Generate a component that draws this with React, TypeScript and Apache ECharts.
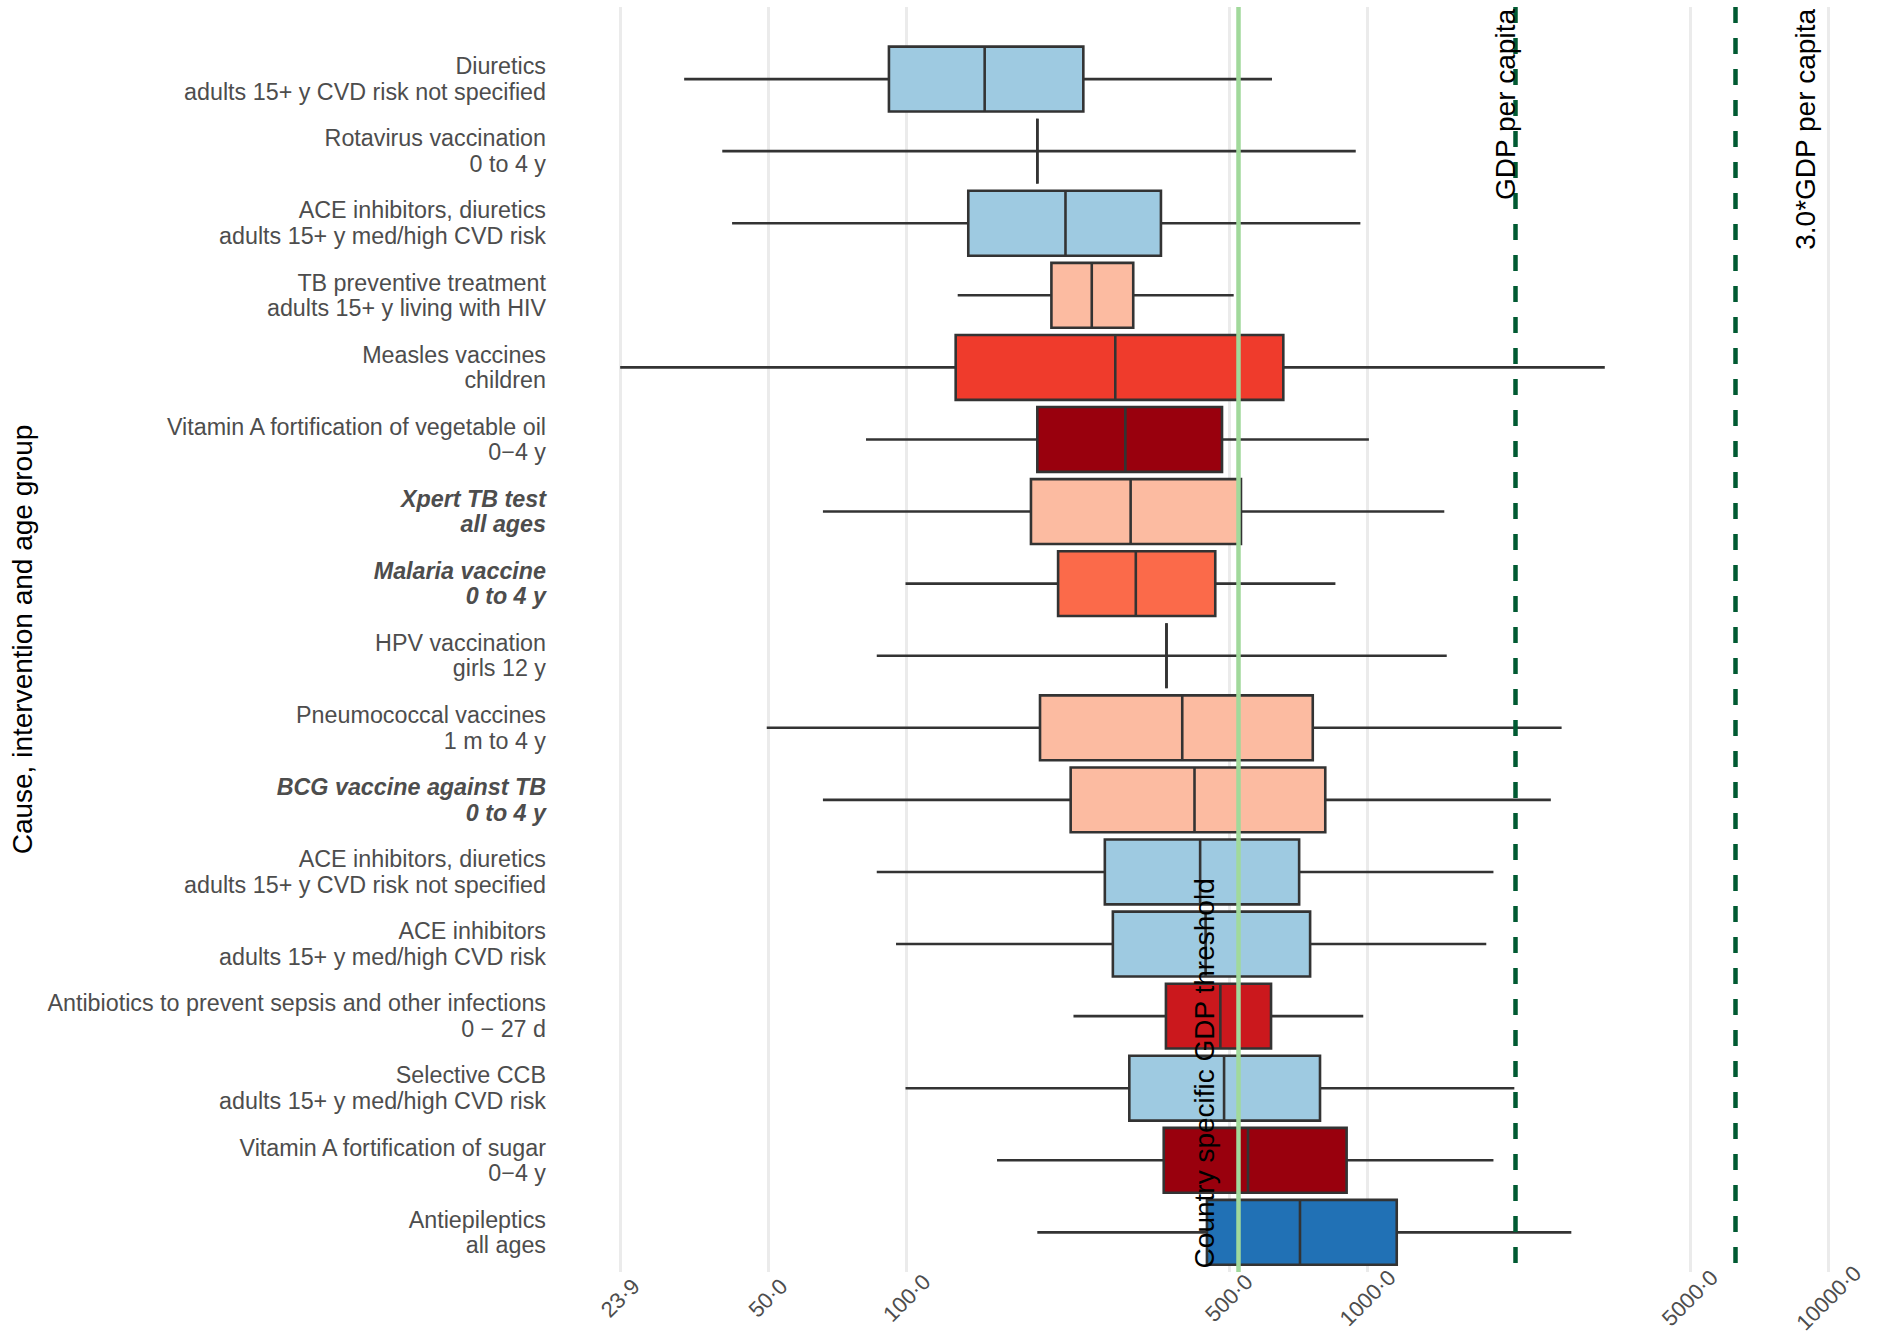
import React, { useEffect, useRef } from "react";
import * as echarts from "echarts";

// ---- Data ----
const labelLine1 = [
  "Diuretics",
  "Rotavirus vaccination",
  "ACE inhibitors, diuretics",
  "TB preventive treatment",
  "Measles vaccines",
  "Vitamin A fortification of vegetable oil",
  "Xpert TB test",
  "Malaria vaccine",
  "HPV vaccination",
  "Pneumococcal vaccines",
  "BCG vaccine against TB",
  "ACE inhibitors, diuretics",
  "ACE inhibitors",
  "Antibiotics to prevent sepsis and other infections",
  "Selective CCB",
  "Vitamin A fortification of sugar",
  "Antiepileptics",
];
const labelLine2 = [
  "adults 15+ y CVD risk not specified",
  "0 to 4 y",
  "adults 15+ y med/high CVD risk",
  "adults 15+ y living with HIV",
  "children",
  "0\u22124 y",
  "all ages",
  "0 to 4 y",
  "girls 12 y",
  "1 m to 4 y",
  "0 to 4 y",
  "adults 15+ y CVD risk not specified",
  "adults 15+ y med/high CVD risk",
  "0 \u2212 27 d",
  "adults 15+ y med/high CVD risk",
  "0\u22124 y",
  "all ages",
];
const emphasized = [
  false, false, false, false, false, false, true, true, false,
  false, true, false, false, false, false, false, false,
];
const minValues = [32.9, 39.8, 41.8, 129, 23.9, 81.6, 65.8, 99.4, 86.1, 49.7, 65.8, 86.1, 94.8, 230, 99.4, 157, 192];
const q1Values = [91.5, 192, 136, 206, 127.7, 192, 186, 213, 366, 194.6, 226.8, 269, 280, 365, 304, 361, 448];
const medianValues = [147.6, 192, 221, 252, 283.4, 298, 306, 314, 366, 396, 421, 433, 445, 479, 488, 550, 713];
const q3Values = [241.6, 192, 356, 310, 656, 483, 531, 467, 366, 760, 809, 710, 750, 617, 788, 900, 1156];
const maxValues = [620, 942, 964, 512, 3268, 1006, 1466, 851, 1484, 2634, 2496, 1874, 1808, 978, 2080, 1874, 2765];
const boxColors = [
  "#9ECAE1", "#FCBBA1", "#9ECAE1", "#FCBBA1", "#EF3B2C", "#99000D", "#FCBBA1",
  "#FB6A4A", "#FCBBA1", "#FCBBA1", "#FCBBA1", "#9ECAE1", "#9ECAE1", "#CB181D",
  "#9ECAE1", "#99000D", "#2171B5",
];
const xTickValues = [23.9, 50, 100, 500, 1000, 5000, 10000];
const thresholdValue = 524;
const gdpPerCapita = 2088;
const gdpMultiplier = 3.0;

const FONT = "'Liberation Sans', Arial, Helvetica, sans-serif";
const EDGE = "#333333";

export default function App() {
  const ref = useRef<HTMLDivElement>(null);

  useEffect(() => {
    const chart = echarts.init(ref.current as HTMLDivElement, null, { renderer: "svg" });
    const indices = labelLine1.map((_, i) => i);
    const boxData = indices.map((i) => [
      i, minValues[i], q1Values[i], medianValues[i], q3Values[i], maxValues[i],
    ]);

    const renderItem = (params: any, api: any) => {
      const idx = api.value(0);
      const med = api.value(3);
      const y = api.coord([med, idx])[1];
      const ya = api.coord([med, idx - 0.45])[1];
      const yb = api.coord([med, idx + 0.45])[1];
      const top = Math.min(ya, yb);
      const h = Math.abs(yb - ya);
      const xMin = api.coord([api.value(1), idx])[0];
      const xQ1 = api.coord([api.value(2), idx])[0];
      const xMed = api.coord([med, idx])[0];
      const xQ3 = api.coord([api.value(4), idx])[0];
      const xMax = api.coord([api.value(5), idx])[0];
      const ls = { stroke: EDGE, lineWidth: 2.6 };
      return {
        type: "group",
        children: [
          { type: "line", shape: { x1: xMin, y1: y, x2: xQ1, y2: y }, style: ls },
          { type: "line", shape: { x1: xQ3, y1: y, x2: xMax, y2: y }, style: ls },
          {
            type: "rect",
            shape: { x: xQ1, y: top, width: xQ3 - xQ1, height: h },
            style: { fill: boxColors[idx], stroke: EDGE, lineWidth: 2.6 },
          },
          { type: "line", shape: { x1: xMed, y1: top, x2: xMed, y2: top + h }, style: ls },
        ],
      };
    };

    const dashed = { color: "#005A32", width: 4.5, type: [16, 15] };

    const option: any = {
      animation: false,
      backgroundColor: "#FFFFFF",
      grid: {
        left: 584.5, right: 11.8, top: 7, bottom: 66,
        containLabel: false, outerBoundsMode: "none",
      },
      xAxis: {
        type: "log",
        logBase: 10,
        min: 20,
        max: 12000,
        axisLine: { show: false },
        axisTick: { show: false, customValues: xTickValues },
        minorTick: { show: false },
        minorSplitLine: { show: false },
        splitLine: { show: true, lineStyle: { color: "#EBEBEB", width: 3 } },
        axisLabel: {
          customValues: xTickValues,
          formatter: (v: any) => Number(v).toFixed(1).replace(".", "\u00B7"),
          rotate: 45,
          align: "center",
          verticalAlign: "middle",
          margin: 26,
          color: "#4D4D4D",
          fontSize: 22,
          fontFamily: FONT,
        },
      },
      yAxis: {
        type: "value",
        min: -1,
        max: 16.55,
        inverse: true,
        axisLine: { show: false },
        axisTick: { show: false, customValues: indices },
        splitLine: { show: false },
        axisLabel: {
          customValues: indices,
          margin: 38.5,
          align: "right",
          verticalAlign: "middle",
          color: "#4D4D4D",
          fontSize: 23.3,
          fontFamily: FONT,
          lineHeight: 25.5,
          formatter: (v: any) => {
            const i = Math.round(Number(v));
            if (Math.abs(i - Number(v)) > 1e-6 || i < 0 || i >= labelLine1.length) return "";
            const s = emphasized[i] ? "b" : "n";
            return `{${s}|${labelLine1[i]}}\n{${s}|${labelLine2[i]}}`;
          },
          rich: {
            n: { fontSize: 23.3, lineHeight: 25.5, color: "#4D4D4D", fontFamily: FONT, align: "right" },
            b: {
              fontSize: 23.3, lineHeight: 25.5, color: "#4D4D4D", fontFamily: FONT, align: "right",
              fontWeight: "bold", fontStyle: "italic",
            },
          },
        },
        name: "Cause, intervention and age group",
        nameLocation: "middle",
        nameRotate: 90,
        nameGap: 543,
        nameTextStyle: { fontSize: 28, color: "#000000", fontFamily: FONT },
      },
      series: [
        {
          type: "custom",
          renderItem,
          data: boxData,
          encode: { x: [1, 2, 3, 4, 5], y: 0 },
          clip: false,
          z: 2,
          silent: true,
        },
        {
          type: "line",
          data: [],
          z: 5,
          silent: true,
          markLine: {
            silent: true,
            symbol: ["none", "none"],
            label: { show: false },
            emphasis: { disabled: true },
            data: [
              { xAxis: thresholdValue, lineStyle: { color: "#A1D99B", width: 4.5, type: "solid" } },
              { xAxis: gdpPerCapita, lineStyle: dashed },
              { xAxis: gdpPerCapita * gdpMultiplier, lineStyle: dashed },
            ],
          },
        },
      ],
    };

    chart.setOption(option);

    const pt = (x: number, y: number) =>
      chart.convertToPixel({ xAxisIndex: 0, yAxisIndex: 0 }, [x, y]) as number[];
    const thr = pt(thresholdValue, 16.5);
    const gdp = pt(gdpPerCapita, -1);
    const gdp3 = pt(gdpPerCapita * gdpMultiplier, -1);
    const txt = (text: string, align: string) => ({
      text, align, verticalAlign: "middle", fontSize: 28, fill: "#000000", fontFamily: FONT,
    });
    chart.setOption({
      graphic: [
        { type: "text", x: thr[0] - 34, y: thr[1], rotation: Math.PI / 2, z: 100, silent: true,
          style: txt("Country specific GDP threshold", "left") },
        { type: "text", x: gdp[0] - 10, y: gdp[1] + 2, rotation: Math.PI / 2, z: 100, silent: true,
          style: txt("GDP per capita", "right") },
        { type: "text", x: gdp3[0] + 70, y: gdp3[1] + 2, rotation: Math.PI / 2, z: 100, silent: true,
          style: txt(`${gdpMultiplier.toFixed(1)}*GDP per capita`, "right") },
      ],
    });

    return () => chart.dispose();
  }, []);

  return (
    <div
      ref={ref}
      style={{ position: "fixed", left: 0, top: 0, width: 1877, height: 1338 }}
    />
  );
}
